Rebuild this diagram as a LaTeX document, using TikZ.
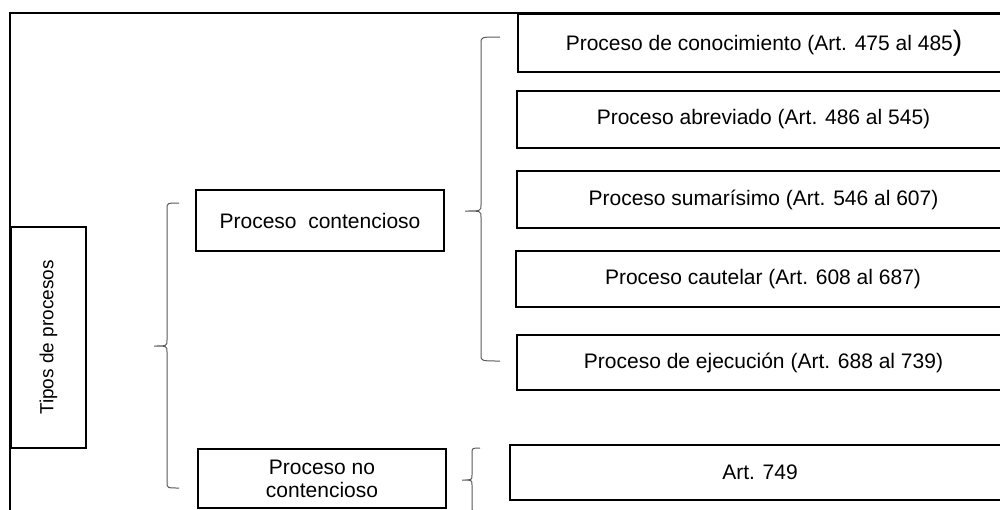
\documentclass[tikz,border=0pt]{standalone}
\usepackage{fontspec}
\setmainfont{Liberation Sans}

\begin{document}
\begin{tikzpicture}[x=0.5pt, y=-0.5pt,
  caja/.style={draw, line width=0.7pt, inner sep=0pt, align=center,
    font=\fontsize{10.5}{11.5}\selectfont},
  llave/.style={draw=black!65, line width=0.5pt}]

\clip (0,0) rectangle (1000,509);

% marco
\draw[line width=1.1pt] (10,520) -- (10,13) -- (1010,13);

\node[caja, rotate=90, minimum width=110.5pt, minimum height=37.5pt,
  font=\fontsize{9.5}{11}\selectfont] (tipos) at (48.5,337.5) {Tipos de procesos};

\node[caja, minimum width=124pt, minimum height=30.5pt] (cont) at (320,220.5) {Proceso\ \ contencioso};
\node[caja, minimum width=124pt, minimum height=29.5pt] (nocont) at (322,478.5) {Proceso no\\contencioso};

\node[caja, minimum width=246pt, minimum height=29pt] (conoc) at (764,43)
  {Proceso de conocimiento (Art. 475 al 485{\fontsize{14}{14}\selectfont)}};
\node[caja, minimum width=246.5pt, minimum height=28.5pt] (abrev) at (763.5,119.5) {Proceso abreviado (Art. 486 al 545)};
\node[caja, minimum width=246.5pt, minimum height=28.5pt] (sumar) at (763.5,199.5) {Proceso sumarísimo (Art. 546 al 607)};
\node[caja, minimum width=247pt, minimum height=28pt] (caut) at (763,279) {Proceso cautelar (Art. 608 al 687)};
\node[caja, minimum width=246.5pt, minimum height=27.5pt] (ejec) at (763.5,362.5) {Proceso de ejecución (Art. 688 al 739)};
\node[caja, minimum width=250pt, minimum height=27.5pt] (art) at (760,472.5) {Art. 749};

% llaves
\coordinate (tiposalto) at (179,203);
\coordinate (tiposbajo) at (179,488);
\coordinate (contalto) at (500,37);
\coordinate (contbajo) at (500,361);
\coordinate (nocontalto) at (480,448);
\coordinate (nocontbajo) at (480,512);

\draw[llave] (tiposalto) .. controls (167,203) .. (167,209) -- (167,340)
  .. controls (167,346) .. (154,346) .. controls (167,346) .. (167,352)
  -- (167,482) .. controls (167,488) .. (tiposbajo);
\draw[llave] (contalto) .. controls (481,37) .. (481,43) -- (481,205)
  .. controls (481,211) .. (465,211) .. controls (481,211) .. (481,217)
  -- (481,355) .. controls (481,361) .. (contbajo);
\draw[llave] (nocontalto) .. controls (472,448) .. (472,454) -- (472,475)
  .. controls (472,480) .. (462,480) .. controls (472,480) .. (472,485)
  -- (472,506) .. controls (472,512) .. (nocontbajo);

\end{tikzpicture}
\end{document}
